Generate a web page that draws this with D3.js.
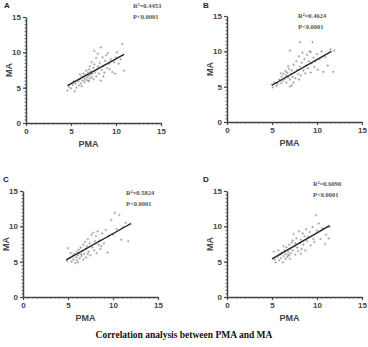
<!DOCTYPE html>
<html>
<head>
<meta charset="utf-8">
<script src="https://cdn.jsdelivr.net/npm/d3@7"></script>
<style>
  body { margin: 0; background: #fff; }
  svg { display: block; }
</style>
</head>
<body>
<div id="chart"></div>
<script>
// Correlation between PMA and MA, four scatter panels A-D

const panelLabels = ["A", "B", "C", "D"];
const r2Labels = ["R\u00B2=0.4453", "R\u00B2=0.4624", "R\u00B2=0.5824", "R\u00B2=0.6090"];
const pLabels = ["P<0.0001", "P<0.0001", "P<0.0001", "P<0.0001"];
const tickValues = [0, 5, 10, 15];

// [PMA, MA] pairs
const pointsA = [[4.6,4.6],[4.8,5.1],[5.0,4.9],[5.2,5.4],[5.4,4.5],[5.5,5.6],[5.6,5.0],[5.8,5.9],[5.9,5.3],[6.0,6.2],[6.1,5.6],[6.2,6.6],[6.3,6.0],[6.4,7.0],[6.5,6.3],[6.5,5.8],[6.6,6.8],[6.7,7.4],[6.7,6.1],[6.8,6.5],[6.9,7.1],[6.9,6.0],[7.0,6.7],[7.0,7.6],[7.1,6.3],[7.1,8.0],[7.2,6.9],[7.2,7.3],[7.3,6.5],[7.3,8.6],[7.4,7.0],[7.5,7.8],[7.5,6.2],[7.6,10.2],[7.6,8.3],[7.7,7.2],[7.8,9.2],[7.8,6.6],[7.9,7.6],[8.0,8.0],[8.0,9.8],[8.1,7.0],[8.2,8.5],[8.3,10.7],[8.3,6.0],[8.4,7.5],[8.5,9.3],[8.6,8.1],[8.7,7.1],[8.8,8.8],[8.9,9.6],[9.0,7.8],[9.1,9.9],[9.2,8.4],[9.3,7.6],[9.4,9.0],[9.6,7.2],[9.8,8.6],[9.9,7.0],[10.0,9.3],[10.1,10.0],[10.3,8.4],[10.5,9.0],[10.7,11.2],[10.9,7.4],[6.2,5.2],[5.3,5.9],[7.0,5.9],[6.0,6.9],[8.6,6.6]];
const pointsB = [[5.0,5.3],[5.1,4.9],[5.3,5.6],[5.5,5.1],[5.8,6.0],[6.0,5.5],[6.1,6.4],[6.2,5.8],[6.3,6.8],[6.4,6.1],[6.5,7.2],[6.6,5.6],[6.6,6.6],[6.7,7.0],[6.8,6.3],[6.9,7.5],[7.0,10.1],[7.0,6.0],[7.0,5.0],[7.1,6.8],[7.2,7.3],[7.2,5.2],[7.3,6.4],[7.4,8.1],[7.5,7.0],[7.6,6.2],[7.7,8.6],[7.8,7.4],[7.9,6.8],[8.0,9.3],[8.1,11.3],[8.1,7.8],[8.2,6.6],[8.3,8.4],[8.4,9.8],[8.5,7.3],[8.6,8.9],[8.7,6.9],[8.8,8.0],[8.9,9.5],[9.0,7.6],[9.1,8.6],[9.2,10.0],[9.3,7.0],[9.4,8.3],[9.5,11.3],[9.6,9.1],[9.7,7.8],[9.8,8.6],[10.0,9.6],[10.1,7.4],[10.3,8.9],[10.5,10.0],[10.7,7.1],[10.9,9.2],[11.2,8.0],[11.5,10.3],[11.8,7.1],[11.9,10.1],[6.0,6.9],[7.4,5.6],[8.0,6.0],[5.6,5.4],[6.8,7.9],[9.3,9.9]];
const pointsC = [[4.9,5.1],[5.0,6.9],[5.2,5.5],[5.4,5.0],[5.5,5.8],[5.6,5.3],[5.7,6.1],[5.8,4.8],[5.9,5.6],[6.0,6.4],[6.0,5.2],[6.1,5.9],[6.2,6.7],[6.3,5.5],[6.3,6.2],[6.4,7.0],[6.5,5.8],[6.6,6.5],[6.7,7.4],[6.7,5.3],[6.8,6.1],[6.9,7.8],[7.0,6.8],[7.0,5.6],[7.1,7.2],[7.2,8.2],[7.3,6.4],[7.4,7.6],[7.5,5.9],[7.6,8.8],[7.7,7.0],[7.8,9.1],[7.9,6.6],[8.0,7.9],[8.1,8.6],[8.2,6.2],[8.3,9.3],[8.4,7.4],[8.5,8.0],[8.6,6.8],[8.8,9.0],[9.0,7.6],[9.2,9.5],[9.4,6.3],[9.5,8.6],[9.8,10.9],[10.0,8.8],[10.2,11.9],[10.4,9.6],[10.7,11.6],[10.9,8.1],[11.1,9.9],[11.4,10.5],[11.7,7.9],[11.9,10.3],[6.1,4.9],[6.5,6.0],[7.2,6.1],[5.3,6.2],[8.7,7.2]];
const pointsD = [[5.2,6.4],[5.3,5.3],[5.4,4.9],[5.6,5.7],[5.8,5.2],[5.9,6.0],[6.0,5.5],[6.1,6.3],[6.2,4.9],[6.3,5.8],[6.4,6.6],[6.5,5.4],[6.5,6.1],[6.6,7.0],[6.7,5.7],[6.8,6.4],[6.9,7.4],[6.9,5.9],[7.0,6.8],[7.1,6.2],[7.2,7.7],[7.3,6.6],[7.4,8.9],[7.5,7.2],[7.6,6.0],[7.7,8.3],[7.8,7.0],[7.9,6.5],[8.0,9.3],[8.1,7.6],[8.2,8.1],[8.3,6.8],[8.4,9.0],[8.5,7.4],[8.6,8.6],[8.7,6.6],[8.8,9.6],[8.9,7.9],[9.0,8.5],[9.2,9.2],[9.3,7.3],[9.5,9.9],[9.6,8.2],[9.7,7.8],[9.9,11.6],[10.0,9.4],[10.2,10.4],[10.4,8.2],[10.6,9.7],[10.9,7.5],[11.0,8.8],[11.3,8.3],[11.4,9.9],[6.3,7.2],[7.0,5.4],[7.6,7.6],[5.7,6.6],[8.2,6.1],[6.8,6.0],[7.3,8.0]];

// regression line end points [PMA, MA]
const fitA = [[4.6, 5.3], [10.9, 9.7]];
const fitB = [[5.0, 5.2], [11.6, 10.0]];
const fitC = [[4.8, 5.25], [12.0, 10.4]];
const fitD = [[5.0, 5.4], [11.4, 10.1]];

const allPoints = [pointsA, pointsB, pointsC, pointsD];
const allFits = [fitA, fitB, fitC, fitD];

const width = 368, height = 347;

// pixel frame of each panel: x from 0..15, y from 0..15
const frames = [
  { x0: 26,  x1: 161, y0: 123, y1: 17,  letter: [4, 8],     stats: [133, 8] },
  { x0: 227, x1: 362, y0: 122, y1: 16,  letter: [203, 8],   stats: [298, 18] },
  { x0: 23,  x1: 158, y0: 297, y1: 191, letter: [3, 182],   stats: [126, 195] },
  { x0: 227, x1: 362, y0: 297, y1: 191, letter: [203, 182], stats: [313, 186] }
];

const svg = d3.select("#chart")
  .append("svg")
    .attr("width", width)
    .attr("height", height)
    .style("background", "#fff");

const sans = "'Liberation Sans', Arial, sans-serif";
const serif = "'Liberation Serif', 'Times New Roman', serif";

frames.forEach((f, i) => {
  const g = svg.append("g");

  const x = d3.scaleLinear().domain([0, 15]).range([f.x0, f.x1]);
  const y = d3.scaleLinear().domain([0, 15]).range([f.y0, f.y1]);

  // minor ticks give the beaded look of the axes
  g.append("g")
    .attr("transform", `translate(0,${f.y0})`)
    .call(d3.axisBottom(x).tickValues(d3.range(0, 15.01, 0.5)).tickSize(1.5).tickFormat(""))
    .call(a => a.select(".domain").remove())
    .call(a => a.selectAll("line").attr("stroke", "#666"));
  g.append("g")
    .attr("transform", `translate(${f.x0},0)`)
    .call(d3.axisLeft(y).tickValues(d3.range(0, 15.01, 0.5)).tickSize(1.5).tickFormat(""))
    .call(a => a.select(".domain").remove())
    .call(a => a.selectAll("line").attr("stroke", "#666"));

  // main axes
  const xAxis = g.append("g")
    .attr("transform", `translate(0,${f.y0})`)
    .call(d3.axisBottom(x).tickValues(tickValues).tickSize(3).tickSizeOuter(0).tickPadding(2));
  const yAxis = g.append("g")
    .attr("transform", `translate(${f.x0},0)`)
    .call(d3.axisLeft(y).tickValues(tickValues).tickSize(3).tickSizeOuter(0).tickPadding(2));

  [xAxis, yAxis].forEach(a => {
    a.select(".domain").attr("stroke", "#444").attr("stroke-width", 1.5);
    a.selectAll(".tick line").attr("stroke", "#444").attr("stroke-width", 1.2);
    a.selectAll(".tick text")
      .attr("fill", "#444")
      .style("font-family", sans)
      .style("font-weight", "bold")
      .style("font-size", "8px");
  });

  // axis titles
  g.append("text")
    .attr("x", (f.x0 + x(15)) / 2 - 5)
    .attr("y", f.y0 + 24)
    .attr("text-anchor", "middle")
    .attr("fill", "#444")
    .style("font-family", sans)
    .style("font-weight", "bold")
    .style("font-size", "9px")
    .text("PMA");

  g.append("text")
    .attr("transform", `translate(${f.x0 - 14},${(f.y0 + f.y1) / 2}) rotate(-90)`)
    .attr("text-anchor", "middle")
    .attr("fill", "#444")
    .style("font-family", sans)
    .style("font-weight", "bold")
    .style("font-size", "9px")
    .text("MA");

  // panel letter
  g.append("text")
    .attr("x", f.letter[0])
    .attr("y", f.letter[1])
    .attr("fill", "#222")
    .style("font-family", sans)
    .style("font-weight", "bold")
    .style("font-size", "8px")
    .text(panelLabels[i]);

  // statistics
  g.append("text")
    .attr("x", f.stats[0])
    .attr("y", f.stats[1])
    .attr("fill", "#555")
    .style("font-family", serif)
    .style("font-weight", "bold")
    .style("font-size", "6.5px")
    .text(r2Labels[i]);
  g.append("text")
    .attr("x", f.stats[0])
    .attr("y", f.stats[1] + 11)
    .attr("fill", "#555")
    .style("font-family", serif)
    .style("font-weight", "bold")
    .style("font-size", "6.5px")
    .text(pLabels[i]);

  // scatter points drawn as small plus signs
  g.selectAll(".pt")
    .data(allPoints[i])
    .enter()
    .append("path")
      .attr("class", "pt")
      .attr("d", d => `M${x(d[0]) - 1.3},${y(d[1])}h2.6M${x(d[0])},${y(d[1]) - 1.3}v2.6`)
      .attr("stroke", "#8a8a8a")
      .attr("stroke-width", 0.6)
      .attr("fill", "none");

  // regression line
  g.append("path")
    .datum(allFits[i])
    .attr("d", d3.line().x(d => x(d[0])).y(d => y(d[1])))
    .attr("stroke", "#222")
    .attr("stroke-width", 1.4)
    .attr("fill", "none");
});

// caption
svg.append("text")
  .attr("x", 184)
  .attr("y", 338)
  .attr("text-anchor", "middle")
  .attr("fill", "#111")
  .style("font-family", serif)
  .style("font-weight", "bold")
  .style("font-size", "9.5px")
  .text("Correlation analysis between PMA and MA");
</script>
</body>
</html>
